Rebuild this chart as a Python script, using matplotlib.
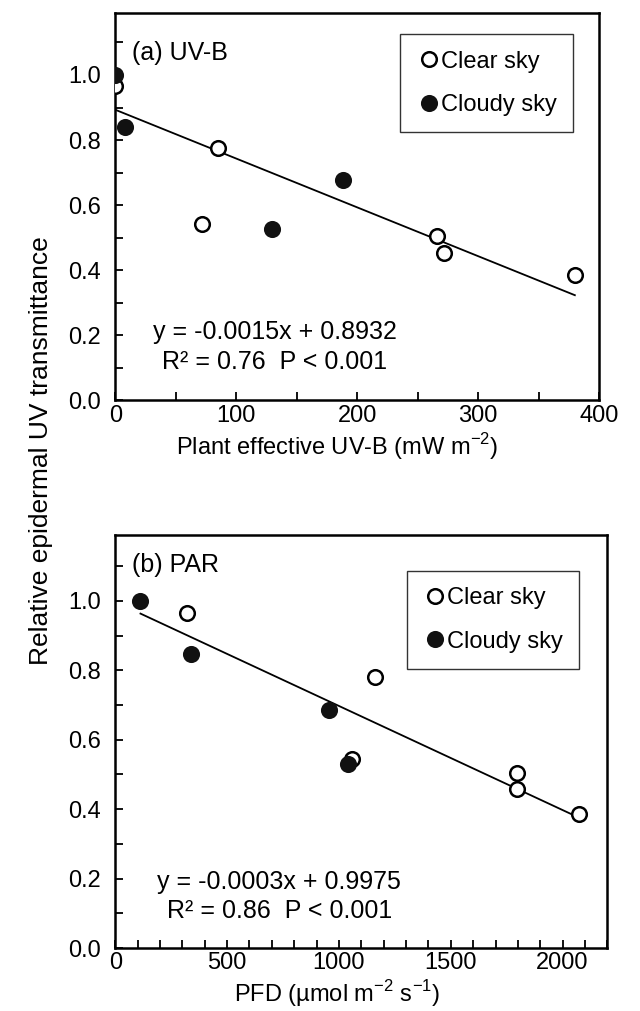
import matplotlib.pyplot as plt
from matplotlib.ticker import MultipleLocator

plt.rcParams['font.family'] = ['Liberation Sans', 'DejaVu Sans']
plt.rcParams['mathtext.fontset'] = 'custom'
plt.rcParams['mathtext.rm'] = 'Liberation Sans'

# panel (a) UV-B
uvb_clear_x = [0, 85, 72, 266, 272, 380]
uvb_clear_y = [0.965, 0.777, 0.541, 0.505, 0.454, 0.385]
uvb_cloudy_x = [0, 8, 130, 188]
uvb_cloudy_y = [1.0, 0.84, 0.528, 0.678]
uvb_slope, uvb_icpt = -0.0015, 0.8932
uvb_fit_x = [0, 380]

# panel (b) PAR
par_clear_x = [320, 1162, 1057, 1797, 1794, 2075]
par_clear_y = [0.966, 0.782, 0.545, 0.505, 0.457, 0.386]
par_cloudy_x = [113, 340, 954, 1040]
par_cloudy_y = [1.0, 0.847, 0.685, 0.531]
par_slope, par_icpt = -0.0003, 0.9975
par_fit_x = [113, 2075]

tick_fs = 17
leg_fs = 17
txt_fs = 18

fig = plt.figure(figsize=(6.4, 10.11), dpi=100)
ax1 = fig.add_axes([0.180, 0.604, 0.756, 0.383])
ax2 = fig.add_axes([0.180, 0.0623, 0.769, 0.4085])


def draw(ax, cx, cy, dx, dy, fx, slope, icpt, xmax, xmaj, xmin, label, label_y,
         eq, r2, eq_pos, r2_pos, leg_anchor):
    ax.plot(fx, [slope * v + icpt for v in fx], color='black', lw=1.3, zorder=2)
    ax.plot(cx, cy, 'o', ms=10.5, mfc='white', mec='black', mew=1.8, ls='none',
            label='Clear sky', zorder=3)
    ax.plot(dx, dy, 'o', ms=10.5, mfc='#111111', mec='#111111', mew=1.8, ls='none',
            label='Cloudy sky', zorder=3)
    ax.set_xlim(0, xmax)
    ax.set_ylim(0, 1.19)
    ax.xaxis.set_major_locator(MultipleLocator(xmaj))
    ax.xaxis.set_minor_locator(MultipleLocator(xmin))
    ax.set_yticks([0, 0.2, 0.4, 0.6, 0.8, 1.0])
    ax.yaxis.set_minor_locator(MultipleLocator(0.1))
    ax.yaxis.set_major_formatter(plt.FormatStrFormatter('%.1f'))
    ax.tick_params(which='both', direction='in', labelsize=tick_fs, width=1.3,
                   colors='black', top=False, right=False, length=6)
    ax.tick_params(axis='y', pad=10)
    ax.tick_params(axis='x', pad=3)
    for s in ax.spines.values():
        s.set_linewidth(1.8)
    ax.text(0.035, label_y, label, transform=ax.transAxes, fontsize=txt_fs, va='center')
    ax.text(eq_pos[0], eq_pos[1], eq, transform=ax.transAxes, fontsize=txt_fs, va='center')
    ax.text(r2_pos[0], r2_pos[1], r2, transform=ax.transAxes, fontsize=txt_fs, va='center')
    leg = ax.legend(loc='upper right', bbox_to_anchor=leg_anchor, fontsize=leg_fs,
                    frameon=True, fancybox=False, edgecolor='black',
                    handletextpad=0.0, handlelength=1.0, labelspacing=0.9,
                    borderpad=0.7, borderaxespad=0)
    leg.get_frame().set_linewidth(1.0)


draw(ax1, uvb_clear_x, uvb_clear_y, uvb_cloudy_x, uvb_cloudy_y, uvb_fit_x,
     uvb_slope, uvb_icpt, 400, 100, 50, '(a) UV-B', 0.897,
     'y = -0.0015x + 0.8932', 'R² = 0.76  P < 0.001',
     (0.079, 0.176), (0.097, 0.098), (0.946, 0.946))
ax1.set_xlabel('Plant effective UV-B (mW m$^{-2}$)', fontsize=leg_fs, labelpad=3, x=0.459)

draw(ax2, par_clear_x, par_clear_y, par_cloudy_x, par_cloudy_y, par_fit_x,
     par_slope, par_icpt, 2200, 500, 100, '(b) PAR', 0.927,
     'y = -0.0003x + 0.9975', 'R² = 0.86  P < 0.001',
     (0.085, 0.16), (0.106, 0.09), (0.943, 0.913))
ax2.set_xlabel('PFD (µmol m$^{-2}$ s$^{-1}$)', fontsize=leg_fs, labelpad=3, x=0.451)

fig.text(0.064, 0.554, 'Relative epidermal UV transmittance', rotation=90,
         fontsize=19, ha='center', va='center')

fig.savefig('out.png', dpi=100, facecolor='white')
